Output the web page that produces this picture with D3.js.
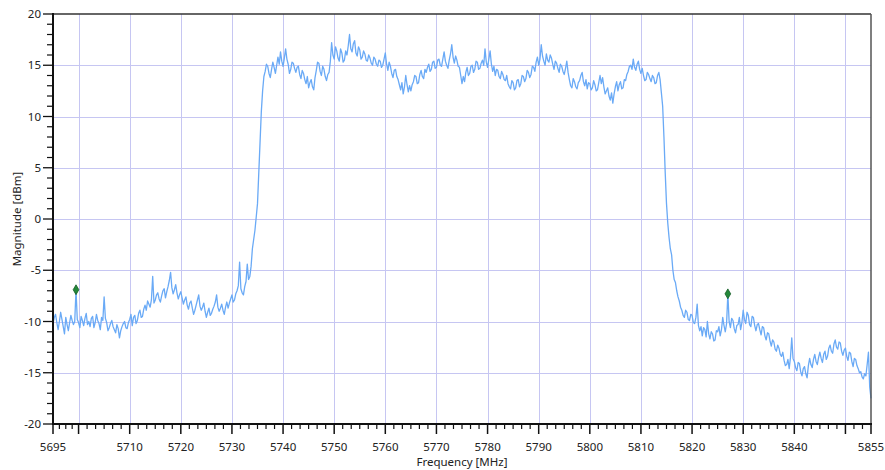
<!DOCTYPE html>
<html>
<head>
<meta charset="utf-8">
<script src="https://cdn.jsdelivr.net/npm/d3@7/dist/d3.min.js"></script>
<style>
  html, body { margin: 0; padding: 0; background: #fff; }
  svg text { font-family: "Noto Sans", "Open Sans", sans-serif; fill: #222; }
</style>
</head>
<body>
<svg id="chart" width="885" height="470"></svg>
<script>
// Spectrum trace: magnitude in dBm, one sample every 0.25 MHz starting at 5695 MHz
const freqStart = 5695;
const freqStep = 0.25;
const magnitude = [
  // 5695 - 5704.75
  -10.2, -9.6, -9.3, -10.1, -10.8, -10.0, -9.1, -9.8, -10.5, -11.2, -9.6, -10.3, -10.9, -10.1, -9.4, -9.9, -10.3, -10.0, -6.9, -9.8,
  -10.1, -10.6, -9.5, -9.9, -10.4, -9.7, -9.2, -10.3, -10.0, -10.5, -9.7, -9.5, -10.6, -10.1, -9.3, -9.9, -10.2, -10.8, -9.6, -9.9,
  // 5705 - 5714.75
  -7.6, -9.7, -10.1, -10.9, -10.6, -10.2, -9.9, -10.5, -10.8, -11.1, -10.3, -10.7, -11.6, -10.9, -10.5, -10.2, -10.0, -10.6, -10.7, -10.1,
  -9.8, -9.3, -10.4, -9.6, -9.4, -10.2, -9.9, -9.2, -8.9, -9.6, -9.5, -8.8, -8.4, -8.9, -8.0, -8.3, -8.6, -7.9, -5.6, -8.2,
  // 5715 - 5724.75
  -7.9, -7.4, -7.2, -7.8, -8.1, -7.5, -7.0, -6.8, -7.7, -7.1, -6.6, -6.0, -5.2, -6.7, -7.3, -6.9, -6.4, -7.2, -7.8, -7.4,
  -7.1, -7.7, -8.3, -7.9, -7.6, -8.4, -8.8, -8.2, -8.0, -8.7, -9.3, -8.9, -8.4, -7.9, -7.4, -8.5, -8.9, -8.6, -8.2, -9.0,
  // 5725 - 5734.75
  -9.6, -9.1, -8.7, -9.4, -9.2, -8.8, -8.5, -8.1, -7.4, -8.6, -9.0, -8.7, -8.3, -8.9, -9.3, -8.6, -8.1, -8.7, -8.2, -7.8,
  -7.4, -8.1, -7.9, -7.3, -7.0, -6.5, -4.2, -6.8, -7.2, -7.4, -6.6, -6.1, -4.4, -5.9, -5.6, -4.6, -2.9, -2.0, -1.1, 0.2,
  // 5735 - 5744.75
  1.5, 4.5, 7.5, 10.5, 12.5, 13.9, 14.4, 15.1, 14.9, 14.2, 13.8, 14.6, 15.3, 14.8, 14.2, 15.0, 15.8, 15.1, 16.3, 15.4,
  14.9, 15.7, 16.6, 15.6, 15.1, 14.2, 14.6, 15.3, 15.2, 14.7, 14.3, 14.8, 14.9, 14.1, 13.7, 14.5, 14.2, 13.6, 13.2, 13.9,
  // 5745 - 5754.75
  12.8, 13.3, 13.6, 12.9, 12.6, 13.8, 14.5, 15.3, 15.2, 14.4, 14.0, 14.9, 14.6, 13.9, 13.5, 14.1, 14.3, 15.4, 17.2, 16.0,
  15.6, 16.8, 16.4, 15.7, 15.4, 16.6, 16.2, 15.3, 15.5, 16.4, 16.0, 16.9, 18.0, 16.6, 16.3, 17.1, 17.4, 16.2, 15.9, 16.8,
  // 5755 - 5764.75
  16.5, 15.6, 15.8, 16.4, 16.1, 15.5, 15.4, 16.0, 15.7, 15.2, 15.0, 15.8, 15.6, 15.1, 14.9, 15.5, 15.4, 14.8, 15.0, 15.6,
  16.2, 15.1, 14.5, 15.3, 14.9, 14.2, 13.8, 14.5, 14.6, 13.9, 13.6, 13.1, 12.6, 13.3, 12.2, 12.9, 14.0, 13.1, 12.4, 13.0,
  // 5765 - 5774.75
  12.5, 13.1, 13.4, 14.0, 13.9, 13.2, 13.3, 14.1, 14.5, 13.9, 13.7, 14.6, 14.3, 14.8, 15.1, 14.4, 14.6, 15.3, 15.4, 14.7,
  14.8, 15.5, 15.6, 15.0, 14.9, 15.6, 16.3, 15.4, 15.0, 14.7, 15.5, 16.1, 17.0, 15.8, 15.2, 15.9, 15.5, 14.9, 14.8, 14.0,
  // 5775 - 5784.75
  13.2, 13.9, 13.4, 14.3, 14.8, 14.0, 14.2, 14.9, 15.0, 14.3, 14.6, 15.4, 15.3, 14.6, 14.7, 15.2, 15.5, 15.0, 16.6, 15.3,
  14.8, 15.6, 16.4, 15.1, 14.4, 14.9, 14.0, 14.6, 14.5, 13.9, 13.7, 14.4, 14.1, 13.6, 13.5, 14.0, 13.2, 12.9, 12.7, 13.5,
  // 5785 - 5794.75
  13.3, 12.6, 12.8, 13.5, 13.6, 12.9, 13.2, 14.0, 13.9, 13.4, 13.7, 14.5, 14.3, 13.8, 14.1, 14.9, 14.8, 14.4, 15.3, 15.8,
  15.0, 15.6, 17.0, 15.9, 15.4, 15.0, 16.1, 15.5, 15.3, 16.0, 15.7, 15.1, 14.6, 15.4, 15.2, 14.7, 14.3, 15.1, 14.9, 14.4,
  // 5795 - 5804.75
  14.1, 14.7, 15.4, 14.3, 13.6, 13.0, 12.8, 13.7, 13.4, 12.9, 12.7, 13.3, 13.5, 14.0, 14.3, 13.4, 13.0, 13.6, 12.7, 13.3,
  13.2, 12.6, 12.8, 13.5, 13.1, 12.5, 12.6, 13.3, 14.0, 13.2, 13.8, 12.9, 12.2, 12.5, 12.8, 12.0, 11.6, 12.3, 11.3, 12.2,
  // 5805 - 5814.75
  12.9, 13.4, 12.5, 13.1, 13.4, 12.7, 12.8, 13.6, 13.5, 14.1, 14.4, 14.9, 15.0, 14.6, 15.6, 14.8, 14.5, 15.1, 15.4, 14.6,
  14.2, 14.7, 14.0, 13.5, 13.6, 14.3, 14.1, 13.7, 13.4, 14.0, 13.8, 13.2, 13.3, 14.0, 14.3, 13.6, 12.3, 11.0, 8.0, 4.5,
  // 5815 - 5824.75
  1.5, -0.4, -1.8, -2.9, -3.5, -5.0, -5.9, -6.2, -7.0, -7.6, -8.0, -8.6, -8.9, -9.4, -9.6, -8.9, -9.1, -9.8, -9.9, -9.3,
  -9.4, -10.1, -10.2, -9.6, -8.3, -10.4, -10.9, -10.5, -11.4, -10.6, -10.8, -11.5, -10.0, -11.2, -11.7, -11.0, -11.2, -11.9, -11.8, -10.9,
  // 5825 - 5834.75
  -11.0, -10.5, -11.4, -10.8, -9.6, -10.4, -11.0, -10.2, -7.3, -10.0, -10.6, -9.7, -9.9, -10.7, -11.1, -10.4, -10.3, -9.6, -10.8, -10.1,
  -8.9, -9.8, -10.2, -9.1, -9.4, -10.3, -10.5, -9.5, -9.6, -10.4, -10.9, -10.3, -10.2, -10.8, -11.3, -10.5, -10.6, -11.4, -11.8, -11.1,
  // 5835 - 5844.75
  -11.2, -11.9, -12.4, -11.8, -12.0, -12.7, -12.9, -12.3, -12.6, -13.2, -13.4, -13.0, -13.8, -14.3, -14.2, -13.7, -14.6, -13.5, -11.6, -13.6,
  -13.9, -14.5, -14.8, -14.0, -14.1, -14.9, -15.3, -14.6, -14.4, -15.1, -15.5, -14.3, -13.6, -14.2, -14.5, -13.7, -13.2, -13.9, -14.2, -13.5,
  // 5845 - 5855
  -13.0, -13.6, -14.0, -13.2, -12.9, -13.7, -13.4, -12.6, -12.3, -12.9, -13.1, -12.2, -11.8, -12.5, -12.7, -12.0, -12.1, -12.9, -13.3, -12.8,
  -12.6, -13.4, -13.8, -13.0, -13.1, -13.9, -14.4, -13.6, -13.7, -14.3, -14.6, -15.0, -14.9, -15.4, -15.6, -15.1, -15.3, -14.2, -13.0, -16.4,
  -17.5
];

// Marker readouts placed on the trace
const markerFreq = [5699.5, 5827.0];
const markerMag = [-6.9, -7.3];

// Axis ranges, labelled ticks and grid positions
const xDomain = [5695, 5855];
const yDomain = [-20, 20];
const xTickLabels = [5695, 5710, 5720, 5730, 5740, 5750, 5760, 5770, 5780, 5790, 5800, 5810, 5820, 5830, 5840, 5855];
const xGridValues = [5700, 5710, 5720, 5730, 5740, 5750, 5760, 5770, 5780, 5790, 5800, 5810, 5820, 5830, 5840, 5850];
const yTickLabels = [-20, -15, -10, -5, 0, 5, 10, 15, 20];

const xTitle = "Frequency [MHz]";
const yTitle = "Magnitude [dBm]";

const points = magnitude.map((v, i) => ({ f: freqStart + i * freqStep, v }));

const margin = { left: 53, right: 14, top: 14, bottom: 46 };
const W = 885, H = 470;
const svg = d3.select("#chart");

const x = d3.scaleLinear().domain(xDomain).range([margin.left, W - margin.right]);
const y = d3.scaleLinear().domain(yDomain).range([H - margin.bottom, margin.top]);

const x0 = x.range()[0], x1 = x.range()[1];
const y0 = y.range()[0], y1 = y.range()[1];

// Grid lines
const gridColor = "#c6c6f2";
svg.append("g").selectAll("line.vg").data(xGridValues).join("line")
  .attr("x1", d => Math.round(x(d)) + 0.5).attr("x2", d => Math.round(x(d)) + 0.5)
  .attr("y1", y1).attr("y2", y0)
  .attr("stroke", gridColor).attr("stroke-width", 1);
svg.append("g").selectAll("line.hg").data(yTickLabels.filter(d => d > yDomain[0] && d < yDomain[1])).join("line")
  .attr("x1", x0).attr("x2", x1)
  .attr("y1", d => Math.round(y(d)) + 0.5).attr("y2", d => Math.round(y(d)) + 0.5)
  .attr("stroke", gridColor).attr("stroke-width", 1);

// Trace
const line = d3.line().x(d => x(d.f)).y(d => y(d.v));
svg.append("path").datum(points)
  .attr("d", line)
  .attr("fill", "none")
  .attr("stroke", "#6aaaf6")
  .attr("stroke-width", 1.3)
  .attr("stroke-linejoin", "round");

// Markers
svg.append("g").selectAll("path.mk").data(markerFreq.map((f, i) => ({ f, v: markerMag[i] }))).join("path")
  .attr("transform", d => `translate(${x(d.f)},${y(d.v)})`)
  .attr("d", d3.symbol().type(d3.symbolDiamond).size(28))
  .attr("fill", "#23883a")
  .attr("stroke", "#145c24")
  .attr("stroke-width", 0.8);

// Frame: top and right borders
svg.append("line").attr("x1", x0).attr("x2", x1).attr("y1", y1).attr("y2", y1)
  .attr("stroke", "#333").attr("stroke-width", 1.5);
svg.append("line").attr("x1", x1).attr("x2", x1).attr("y1", y1).attr("y2", y0)
  .attr("stroke", "#555").attr("stroke-width", 1.5);

// Minor tick positions: six per 10 MHz span, edge spans split to fit
const xMinor = [];
for (let f = xGridValues[0]; f < xGridValues[xGridValues.length - 1] - 1e-6; f += 10) {
  for (let k = 1; k < 6; k++) xMinor.push(f + k * 10 / 6);
}
for (let k = 1; k < 4; k++) xMinor.push(xDomain[0] + k * 1.25);
for (let k = 1; k < 3; k++) xMinor.push(5850 + k * 5 / 3);
const xMajor = Array.from(new Set([...xTickLabels, ...xGridValues]));

const yMinor = d3.range(yDomain[0], yDomain[1] + 0.001, 1).filter(d => d % 5 !== 0);

// Bottom axis
const gx = svg.append("g");
gx.selectAll("line.mn").data(xMinor).join("line")
  .attr("x1", d => x(d)).attr("x2", d => x(d))
  .attr("y1", y0).attr("y2", y0 + 5)
  .attr("stroke", "#111").attr("stroke-width", 1.2);
gx.selectAll("line.mj").data(xMajor).join("line")
  .attr("x1", d => x(d)).attr("x2", d => x(d))
  .attr("y1", y0).attr("y2", y0 + 10)
  .attr("stroke", "#111").attr("stroke-width", 1.5);
gx.selectAll("text").data(xTickLabels).join("text")
  .attr("x", d => x(d)).attr("y", y0 + 27)
  .attr("text-anchor", "middle")
  .attr("font-size", "11.5px")
  .text(d => d);
gx.append("line").attr("x1", x0 - 1).attr("x2", x1 + 1).attr("y1", y0).attr("y2", y0)
  .attr("stroke", "#111").attr("stroke-width", 2);

// Left axis
const gy = svg.append("g");
gy.selectAll("line.mn").data(yMinor).join("line")
  .attr("x1", x0 - 6).attr("x2", x0)
  .attr("y1", d => y(d)).attr("y2", d => y(d))
  .attr("stroke", "#111").attr("stroke-width", 1.2);
gy.selectAll("line.mj").data(yTickLabels).join("line")
  .attr("x1", x0 - 10).attr("x2", x0)
  .attr("y1", d => y(d)).attr("y2", d => y(d))
  .attr("stroke", "#111").attr("stroke-width", 1.3);
gy.selectAll("text").data(yTickLabels).join("text")
  .attr("x", x0 - 12).attr("y", d => y(d))
  .attr("dy", "0.35em")
  .attr("text-anchor", "end")
  .attr("font-size", "11.5px")
  .text(d => d);
gy.append("line").attr("x1", x0).attr("x2", x0).attr("y1", y1 - 1).attr("y2", y0 + 1)
  .attr("stroke", "#111").attr("stroke-width", 2);

// Axis titles
svg.append("text")
  .attr("x", (x0 + x1) / 2).attr("y", H - 4)
  .attr("text-anchor", "middle")
  .attr("font-size", "11.5px")
  .text(xTitle);
svg.append("text")
  .attr("transform", `translate(21,${(y0 + y1) / 2}) rotate(-90)`)
  .attr("text-anchor", "middle")
  .attr("font-size", "11.5px")
  .text(yTitle);
</script>
</body>
</html>
